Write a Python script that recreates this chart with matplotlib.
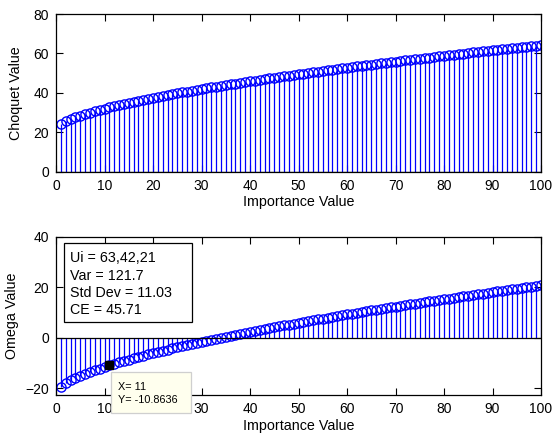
import numpy as np
import matplotlib
matplotlib.use('Agg')
import matplotlib.pyplot as plt

plt.rcParams['font.family'] = ['Liberation Sans', 'DejaVu Sans']

importance = np.arange(1, 101)

choquet = [
    24.20, 25.51, 26.59, 27.53, 28.39, 29.18, 29.93, 30.64, 31.31, 31.96,
    32.58, 33.18, 33.76, 34.32, 34.87, 35.41, 35.93, 36.44, 36.94, 37.43,
    37.91, 38.39, 38.85, 39.31, 39.76, 40.20, 40.64, 41.07, 41.50, 41.91,
    42.33, 42.74, 43.14, 43.54, 43.94, 44.33, 44.72, 45.10, 45.48, 45.86,
    46.23, 46.59, 46.96, 47.32, 47.68, 48.03, 48.39, 48.74, 49.08, 49.43,
    49.77, 50.11, 50.45, 50.78, 51.11, 51.44, 51.77, 52.10, 52.42, 52.74,
    53.06, 53.38, 53.69, 54.00, 54.32, 54.63, 54.93, 55.24, 55.54, 55.85,
    56.15, 56.45, 56.75, 57.04, 57.34, 57.63, 57.92, 58.22, 58.50, 58.79,
    59.07, 59.36, 59.64, 59.93, 60.21, 60.49, 60.77, 61.04, 61.32, 61.60,
    61.87, 62.14, 62.41, 62.68, 62.95, 63.22, 63.49, 63.76, 64.02, 64.29,
]

omega = [
    -19.24, -17.93, -16.85, -15.91, -15.05, -14.26, -13.51, -12.80, -12.13, -11.48,
    -10.8636, -10.26, -9.68, -9.12, -8.57, -8.03, -7.51, -7.00, -6.50, -6.01,
    -5.53, -5.05, -4.59, -4.13, -3.68, -3.24, -2.80, -2.37, -1.94, -1.53,
    -1.11, -0.70, -0.30, 0.10, 0.50, 0.89, 1.28, 1.66, 2.04, 2.42,
    2.79, 3.15, 3.52, 3.88, 4.24, 4.59, 4.95, 5.30, 5.64, 5.99,
    6.33, 6.67, 7.01, 7.34, 7.67, 8.00, 8.33, 8.66, 8.98, 9.30,
    9.62, 9.94, 10.25, 10.56, 10.88, 11.19, 11.49, 11.80, 12.10, 12.41,
    12.71, 13.01, 13.31, 13.60, 13.90, 14.19, 14.48, 14.78, 15.06, 15.35,
    15.63, 15.92, 16.20, 16.49, 16.77, 17.05, 17.33, 17.60, 17.88, 18.16,
    18.43, 18.70, 18.97, 19.24, 19.51, 19.78, 20.05, 20.32, 20.58, 20.85,
]

x_ticks = list(range(0, 101, 10))
stats_lines = ['Ui = 63,42,21', 'Var = 121.7', 'Std Dev = 11.03', 'CE = 45.71']
tip_index = 10  # datatip on x = 11

W, H = 554, 437
fig = plt.figure(figsize=(W / 100, H / 100), dpi=100)
fig.patch.set_facecolor('white')


def px_axes(left, top, right, bottom):
    return fig.add_axes([left / W, 1 - bottom / H, (right - left) / W, (bottom - top) / H])


def stem_plot(ax, x, y):
    markerline, stemlines, baseline = ax.stem(x, y, basefmt='k-')
    stemlines.set_color('#0000ff')
    stemlines.set_linewidth(0.9)
    markerline.set_marker('o')
    markerline.set_markerfacecolor('none')
    markerline.set_markeredgecolor('#0000ff')
    markerline.set_markersize(6.6)
    markerline.set_markeredgewidth(1.0)
    markerline.set_linestyle('none')
    baseline.set_linewidth(0.9)
    baseline.set_xdata([0, 100])


def style_axes(ax, ylabel, ylabel_x):
    ax.set_xlim(0, 100)
    ax.set_xticks(x_ticks)
    ax.tick_params(direction='in', top=True, right=True, length=5,
                   labelsize=10, pad=5, width=0.8)
    for s in ax.spines.values():
        s.set_linewidth(0.9)
    ax.set_xlabel('Importance Value', fontsize=10.3, labelpad=2)
    ax.set_ylabel(ylabel, fontsize=10.3)
    ax.yaxis.set_label_coords(ylabel_x, 0.5)


ax1 = px_axes(56, 14, 541, 171.7)
stem_plot(ax1, importance, choquet)
ax1.set_ylim(0, 80)
ax1.set_yticks([0, 20, 40, 60, 80])
style_axes(ax1, 'Choquet Value', -0.068)

ax2 = px_axes(56, 237, 541, 395)
stem_plot(ax2, importance, omega)
ax2.set_ylim(-22.6, 40)
ax2.set_yticks([-20, 0, 20, 40])
style_axes(ax2, 'Omega Value', -0.076)
# the "20" label sits under the datatip
ax2.set_xticklabels(['' if t == 20 else str(t) for t in x_ticks])

# statistics box
fig.patches.append(plt.Rectangle((63.5 / W, 1 - 322 / H), (191.5 - 63.5) / W, (322 - 242.5) / H,
                                 transform=fig.transFigure, facecolor='white',
                                 edgecolor='black', linewidth=0.9, zorder=5))
for i, line in enumerate(stats_lines):
    fig.text(70 / W, 1 - (258.5 + i * 17.2) / H, line, fontsize=10.3,
             va='center', ha='left', zorder=6)

# datatip
tx, ty = importance[tip_index], omega[tip_index]
ax2.plot([tx], [ty], marker='s', color='black', markersize=6, zorder=6)
fig.patches.append(plt.Rectangle((111 / W, 1 - 413 / H), (190.5 - 111) / W, (413 - 372) / H,
                                 transform=fig.transFigure, facecolor='#ffffee',
                                 edgecolor='#cfcfcf', linewidth=0.9, zorder=20))
fig.text(117.5 / W, 1 - 386.5 / H, 'X= %d' % tx, fontsize=7.8, va='center', ha='left', zorder=21)
fig.text(117.5 / W, 1 - 400 / H, 'Y= %g' % ty, fontsize=7.8, va='center', ha='left', zorder=21)

fig.savefig('out.png', dpi=100)
